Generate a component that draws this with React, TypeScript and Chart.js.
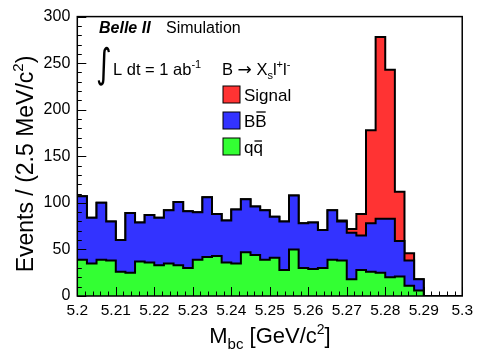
import React, { useEffect, useRef } from 'react';
import { Chart, registerables } from 'chart.js';

Chart.register(...registerables);

// ---- data (events per 2.5 MeV/c^2 bin, 40 bins from 5.2 to 5.3) ----
const X_MIN = 5.2;
const X_MAX = 5.3;
const BIN_WIDTH = 0.0025;

const qqbar = [
  39, 35, 39, 38, 26, 25, 37, 36, 33, 35,
  33, 30, 39, 42, 43, 36, 35, 47, 44, 39,
  41, 28, 50, 30, 29, 30, 39, 38, 18, 28,
  26, 25, 20, 21, 11, 6, 0, 0, 0, 0,
];
const bbbar = [
  68, 49, 61, 42, 34, 64, 42, 51, 51, 57,
  68, 61, 51, 64, 45, 45, 58, 57, 52, 53,
  44, 52, 58, 48, 50, 41, 53, 42, 50, 37,
  52, 58, 63, 38, 27, 12, 0, 0, 0, 0,
];
const signal = [
  0, 0, 0, 0, 0, 0, 0, 0, 0, 0,
  0, 0, 0, 0, 0, 0, 0, 0, 0, 0,
  0, 0, 0, 0, 0, 0, 0, 1, 4, 23,
  100, 195, 160, 53, 8, 0, 0, 0, 0, 0,
];
const yTicks = [0, 50, 100, 150, 200, 250, 300];
const xTickStep = 0.01;

const RED = '#ff3333';
const BLUE = '#3333ff';
const GREEN = '#33ff33';
const FONT = "'Liberation Sans', Arial, Helvetica, sans-serif";

function toPoints(values: number[]) {
  const pts: { x: number; y: number }[] = [];
  for (let i = 0; i <= values.length; i++) {
    pts.push({ x: X_MIN + i * BIN_WIDTH, y: i < values.length ? values[i] : 0 });
  }
  return pts;
}

type Seg = { t: string; size: number; dy?: number; weight?: string; overline?: number; family?: string };

function segFont(s: Seg) {
  return `${s.weight || ''} ${s.size}px ${s.family || FONT}`;
}

function richWidth(ctx: CanvasRenderingContext2D, segs: Seg[]) {
  let w = 0;
  for (const s of segs) {
    ctx.font = segFont(s);
    w += ctx.measureText(s.t).width;
  }
  return w;
}

function drawRich(ctx: CanvasRenderingContext2D, segs: Seg[], x: number, y: number, align: 'left' | 'center' = 'left') {
  let cx = align === 'center' ? x - richWidth(ctx, segs) / 2 : x;
  ctx.textAlign = 'left';
  ctx.textBaseline = 'alphabetic';
  for (const s of segs) {
    ctx.font = segFont(s);
    const w = ctx.measureText(s.t).width;
    ctx.fillText(s.t, cx, y + (s.dy || 0));
    if (s.overline) {
      ctx.save();
      ctx.lineWidth = 1.3;
      ctx.beginPath();
      ctx.moveTo(cx + 1, y - s.overline);
      ctx.lineTo(cx + w - 1, y - s.overline);
      ctx.stroke();
      ctx.restore();
    }
    cx += w;
  }
}

const decorPlugin = {
  id: 'decor',
  afterDraw(chart: any) {
    const ctx: CanvasRenderingContext2D = chart.ctx;
    const { left, right, top, bottom } = chart.chartArea;
    const xs = chart.scales.x;
    const ys = chart.scales.y;
    ctx.save();
    ctx.strokeStyle = '#000';
    ctx.fillStyle = '#000';

    // ticks inside the frame
    ctx.lineWidth = 1;
    ctx.beginPath();
    for (let v = 0; v <= 300; v += 10) {
      const py = Math.round(ys.getPixelForValue(v)) + 0.5;
      const len = v % 50 === 0 ? 9 : 4.5;
      ctx.moveTo(left, py);
      ctx.lineTo(left + len, py);
    }
    for (let i = 0; i <= 50; i++) {
      const px = Math.round(xs.getPixelForValue(X_MIN + i * 0.002)) + 0.5;
      const len = i % 5 === 0 ? 9 : 4.5;
      ctx.moveTo(px, bottom);
      ctx.lineTo(px, bottom - len);
    }
    ctx.stroke();

    // frame
    ctx.lineWidth = 1.5;
    ctx.strokeRect(left, top, right - left, bottom - top);

    // axis titles
    drawRich(ctx, [
      { t: 'M', size: 22 },
      { t: 'bc', size: 15, dy: 6 },
      { t: ' [GeV/c', size: 22 },
      { t: '2', size: 14, dy: -9 },
      { t: ']', size: 22 },
    ], 270, 343, 'center');

    ctx.save();
    ctx.translate(33, 164);
    ctx.rotate(-Math.PI / 2);
    drawRich(ctx, [
      { t: 'Events / (2.5 MeV/c', size: 23 },
      { t: '2', size: 15, dy: -10 },
      { t: ')', size: 23 },
    ], 0, 0, 'center');
    ctx.restore();

    // labels
    drawRich(ctx, [
      { t: 'Belle II', size: 16, weight: 'italic bold' },
    ], 99, 33);
    drawRich(ctx, [{ t: 'Simulation', size: 16 }], 166, 33);

    ctx.save();
    ctx.font = `40px 'DejaVu Sans'`;
    ctx.textAlign = 'left';
    ctx.textBaseline = 'alphabetic';
    ctx.translate(96, 77);
    ctx.scale(0.75, 1);
    ctx.fillText('\u222B', 0, 0);
    ctx.restore();

    drawRich(ctx, [
      { t: 'L dt = 1 ab', size: 16.5 },
      { t: '-1', size: 11, dy: -7 },
    ], 113, 75);

    drawRich(ctx, [
      { t: 'B ', size: 16.5 },
      { t: '\u2192', size: 17, family: "'DejaVu Sans'" },
      { t: ' X', size: 16.5 },
      { t: 's', size: 11, dy: 4 },
      { t: 'l', size: 16.5 },
      { t: '+', size: 11, dy: -7 },
      { t: 'l', size: 16.5 },
      { t: '-', size: 11, dy: -7 },
    ], 222, 75);

    // legend
    const rows: { c: string; segs: Seg[]; y: number }[] = [
      { c: RED, segs: [{ t: 'Signal', size: 17 }], y: 86 },
      { c: BLUE, segs: [{ t: 'B', size: 17 }, { t: 'B', size: 17, overline: 15 }], y: 112 },
      { c: GREEN, segs: [{ t: 'q', size: 17 }, { t: 'q', size: 17, overline: 12 }], y: 138 },
    ];
    for (const r of rows) {
      ctx.fillStyle = r.c;
      ctx.fillRect(223, r.y, 17, 17);
      ctx.lineWidth = 1;
      ctx.strokeStyle = '#000';
      ctx.strokeRect(223, r.y, 17, 17);
      ctx.fillStyle = '#000';
      drawRich(ctx, r.segs, 244, r.y + 15);
    }
    ctx.restore();
  },
};

export default function App() {
  const ref = useRef<HTMLCanvasElement | null>(null);

  useEffect(() => {
    document.body.style.margin = '0';
    if (!ref.current) return;
    const common = {
      stepped: true,
      borderColor: '#000',
      borderWidth: 2,
      pointRadius: 0,
      tension: 0,
    };
    const chart = new Chart(ref.current, {
      type: 'line',
      data: {
        datasets: [
          { ...common, label: 'q\u0071\u0304', data: toPoints(qqbar), fill: 'origin', backgroundColor: GREEN },
          { ...common, label: 'BB\u0304', data: toPoints(bbbar), fill: '-1', backgroundColor: BLUE },
          { ...common, label: 'Signal', data: toPoints(signal), fill: '-1', backgroundColor: RED },
        ],
      } as any,
      options: {
        animation: false,
        responsive: false,
        devicePixelRatio: 1,
        events: [],
        layout: { padding: { left: 0, right: 13.7, top: 13, bottom: 0 } },
        plugins: { legend: { display: false }, tooltip: { enabled: false } },
        scales: {
          x: {
            type: 'linear',
            min: X_MIN,
            max: X_MAX,
            grid: { display: false, drawTicks: false },
            border: { display: false },
            ticks: {
              stepSize: xTickStep,
              padding: 5,
              color: '#000',
              maxRotation: 0,
              autoSkip: false,
              font: { family: FONT, size: 15.5 },
              callback: (v: any) => Number(v).toFixed(2).replace(/0$/, ''),
            },
            afterFit: (s: any) => { s.height = 54; },
          },
          y: {
            stacked: true,
            min: 0,
            max: 300,
            grid: { display: false, drawTicks: false },
            border: { display: false },
            afterBuildTicks: (s: any) => { s.ticks = yTicks.map((v) => ({ value: v })); },
            ticks: {
              padding: 7,
              color: '#000',
              font: { family: FONT, size: 16 },
            },
            afterFit: (s: any) => { s.width = 77.3; },
          },
        },
      } as any,
      plugins: [decorPlugin],
    });
    return () => chart.destroy();
  }, []);

  return <canvas ref={ref} width={478} height={350} style={{ display: 'block' }} />;
}
